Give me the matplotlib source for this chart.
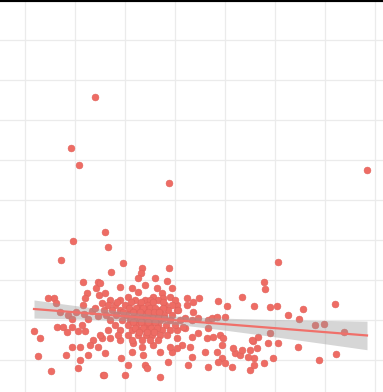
import numpy as np
import matplotlib
matplotlib.use("Agg")
import matplotlib.pyplot as plt

# ---- data ----
x_outer = [1.40, 0.92, 1.08, 2.88, 6.84, 1.60, 0.96, 1.66, 0.72, 5.06, 4.78, 4.80,
           1.96, 1.72, 2.34, 2.32, 2.26, 2.88, 2.60, 2.84, 1.16, 1.46, 1.42, 1.24,
           0.46, 0.58, 0.62, 1.20, 1.48, 1.54, 1.16, 2.40, 2.94, 1.50, 1.90, 2.14,
           2.64, 2.26, 1.60, 2.56, 2.74, 2.76, 2.90, 1.90, 2.06]
y_outer = [6.58, 5.30, 4.88, 4.43, 4.75, 3.20, 2.98, 2.83, 2.50, 2.45, 1.95, 1.78,
           2.43, 2.20, 2.30, 2.18, 2.05, 2.30, 2.05, 1.98, 1.95, 1.95, 1.80, 1.68,
           1.55, 1.55, 1.43, 1.55, 1.63, 1.43, 1.38, 1.88, 1.80, 1.93, 1.83, 1.80,
           1.80, 1.70, 1.68, 1.58, 1.68, 1.55, 1.58, 1.50, 1.58]

x_right = [3.24, 3.04, 3.24, 3.36, 3.48, 3.86, 4.04, 4.34, 4.58, 4.90, 5.04, 5.56,
           5.26, 5.48, 6.20, 5.80, 5.98, 6.38, 5.46, 5.88, 6.22, 4.90, 4.66, 4.56,
           4.86, 5.06, 4.64, 4.50, 4.58, 4.96, 4.78, 4.50, 4.58, 4.46,
           3.04, 3.36, 3.20, 3.34, 3.46, 3.66, 3.74, 3.84, 4.00, 3.20, 3.46, 3.34,
           3.66, 3.64, 3.76, 3.90, 3.04, 3.14, 3.30, 3.34, 3.60, 3.84, 3.94, 3.96,
           3.94, 4.00, 4.14, 4.20, 4.30, 4.34, 4.54, 3.26, 3.66, 3.86, 4.16, 3.16]
y_right = [1.55, 1.38, 1.38, 1.45, 1.55, 1.48, 1.35, 1.58, 1.35, 1.33, 1.35, 1.28,
           1.13, 1.03, 1.40, 0.88, 0.90, 0.70, 0.33, 0.00, 0.15, 0.68, 0.58, 0.48,
           0.43, 0.43, 0.30, 0.25, 0.05, 0.05, -0.08, -0.25, -0.13, 0.08,
           1.25, 1.20, 1.05, 1.00, 1.05, 1.00, 1.05, 1.08, 1.08, 0.80, 0.68, 0.58,
           0.80, 0.55, 0.58, 0.63, 0.55, 0.38, 0.33, 0.08, 0.20, 0.20, 0.38, 0.55,
           0.05, -0.08, -0.18, 0.18, 0.13, 0.25, 0.50, -0.13, -0.18, -0.05, 0.30, 0.83]

x_left = [0.18, 0.30, 0.26, 0.52, 0.64, 0.76, 0.94, 1.14, 1.20, 1.06, 0.84, 0.94,
          1.10, 1.36, 1.30, 1.46, 1.54, 0.82, 1.26, 1.10, 1.06, 1.56,
          0.70, 0.86, 1.02, 1.18, 1.34, 1.46, 1.58, 1.26, 0.94, 1.40,
          1.60, 1.92, 2.14, 2.06, 2.36, 2.40, 2.44, 2.56, 2.70, 2.86, 2.94, 1.58,
          2.00, 2.70, 1.70, 1.50, 1.90, 2.16, 2.34, 2.90, 3.04, 3.04]
y_left = [0.73, 0.55, 0.10, -0.28, 0.83, 0.83, 0.83, 0.88, 0.73, 0.73, 0.70, 0.33,
          0.33, 0.50, 0.38, 0.33, 0.55, 0.13, 0.13, 0.00, -0.20, -0.38,
          1.20, 1.13, 1.20, 1.15, 1.23, 1.10, 1.25, 1.03, 1.03, 1.30,
          0.18, 0.05, 0.20, -0.13, 0.13, -0.13, -0.20, 0.38, 0.20, -0.05, 0.20, -0.38,
          -0.38, -0.43, 0.55, 0.63, 0.50, 0.43, 0.33, 0.33, 0.30, 0.75]

x_core = [1.70, 2.20, 2.40, 2.50, 2.66, 3.00,
          1.66, 1.80, 2.00, 2.30, 2.46, 2.80, 2.94,
          1.74, 1.90, 2.10, 2.26, 2.40, 2.54, 2.70, 2.86, 3.06,
          1.62, 1.82, 2.02, 2.18, 2.34, 2.50, 2.62, 2.78, 2.94,
          1.70, 1.94, 2.10, 2.26, 2.42, 2.58, 2.70, 2.90, 3.10,
          1.80, 2.06, 2.22, 2.38, 2.50, 2.66, 2.82, 3.00,
          1.66, 1.90, 2.14, 2.30, 2.46, 2.60, 2.74, 2.90,
          1.86, 2.06, 2.26, 2.42, 2.54, 2.70, 2.84,
          2.14, 2.34, 2.50, 2.66,
          1.84, 2.12, 2.32, 2.56, 2.76,
          2.08, 2.22, 2.36, 2.50, 2.60, 2.76,
          1.96, 2.16, 2.30, 2.46, 2.58, 2.68,
          2.12, 2.30, 2.44, 2.56, 2.66, 2.78,
          2.16, 2.32, 2.46, 2.60,
          2.20, 2.36, 2.52, 2.64,
          2.28, 2.44, 2.58]
y_core = [1.50, 1.50, 1.50, 1.50, 1.50, 1.50,
          1.38, 1.38, 1.38, 1.38, 1.38, 1.38, 1.38,
          1.25, 1.25, 1.25, 1.25, 1.25, 1.25, 1.25, 1.25, 1.25,
          1.13, 1.13, 1.13, 1.13, 1.13, 1.13, 1.13, 1.13, 1.13,
          1.00, 1.00, 1.00, 1.00, 1.00, 1.00, 1.00, 1.00, 1.00,
          0.88, 0.88, 0.88, 0.88, 0.88, 0.88, 0.88, 0.88,
          0.75, 0.75, 0.75, 0.75, 0.75, 0.75, 0.75, 0.75,
          0.63, 0.63, 0.63, 0.63, 0.63, 0.63, 0.63,
          0.50, 0.50, 0.50, 0.50,
          1.44, 1.44, 1.44, 1.44, 1.44,
          1.31, 1.31, 1.31, 1.31, 1.31, 1.31,
          1.19, 1.19, 1.19, 1.19, 1.19, 1.19,
          1.06, 1.06, 1.06, 1.06, 1.06, 1.06,
          0.94, 0.94, 0.94, 0.94,
          0.81, 0.81, 0.81, 0.81,
          0.69, 0.69, 0.69]

x = np.array(x_outer + x_right + x_left + x_core)
y = np.array(y_outer + y_right + y_left + y_core)

# ---- linear fit with 95% confidence band ----
n = len(x)
b1, b0 = np.polyfit(x, y, 1)
resid = y - (b0 + b1 * x)
s = np.sqrt(np.sum(resid ** 2) / (n - 2))
xs = np.linspace(x.min(), x.max(), 100)
ys = b0 + b1 * xs
se = s * np.sqrt(1 / n + (xs - x.mean()) ** 2 / np.sum((x - x.mean()) ** 2))
t = 1.97
lo, hi = ys - t * se, ys + t * se

# ---- plot ----
fig = plt.figure(figsize=(3.83, 3.92), dpi=100)
ax = fig.add_axes([0, 0, 1, 1])
ax.set_facecolor("white")
ax.set_xlim(-0.5, 7.16)
ax.set_ylim(-0.8, 9.0)
ax.set_xticks(np.arange(0, 8))
ax.set_yticks(np.arange(0, 10))
ax.grid(True, color="#EBEBEB", linewidth=0.9)
ax.set_axisbelow(True)
ax.tick_params(left=False, bottom=False, labelleft=False, labelbottom=False)
for side in ["left", "right", "bottom"]:
    ax.spines[side].set_visible(False)
ax.spines["top"].set_color("black")
ax.spines["top"].set_linewidth(3)

ax.scatter(x, y, s=24, color="#EE6C64", edgecolors="#E0625B", linewidths=0.4,
           zorder=2)
ax.fill_between(xs, lo, hi, color="#999999", alpha=0.4, linewidth=0, zorder=3)
ax.plot(xs, ys, color="#F0706A", linewidth=1.6, zorder=4)

fig.savefig("out.png", dpi=100)
